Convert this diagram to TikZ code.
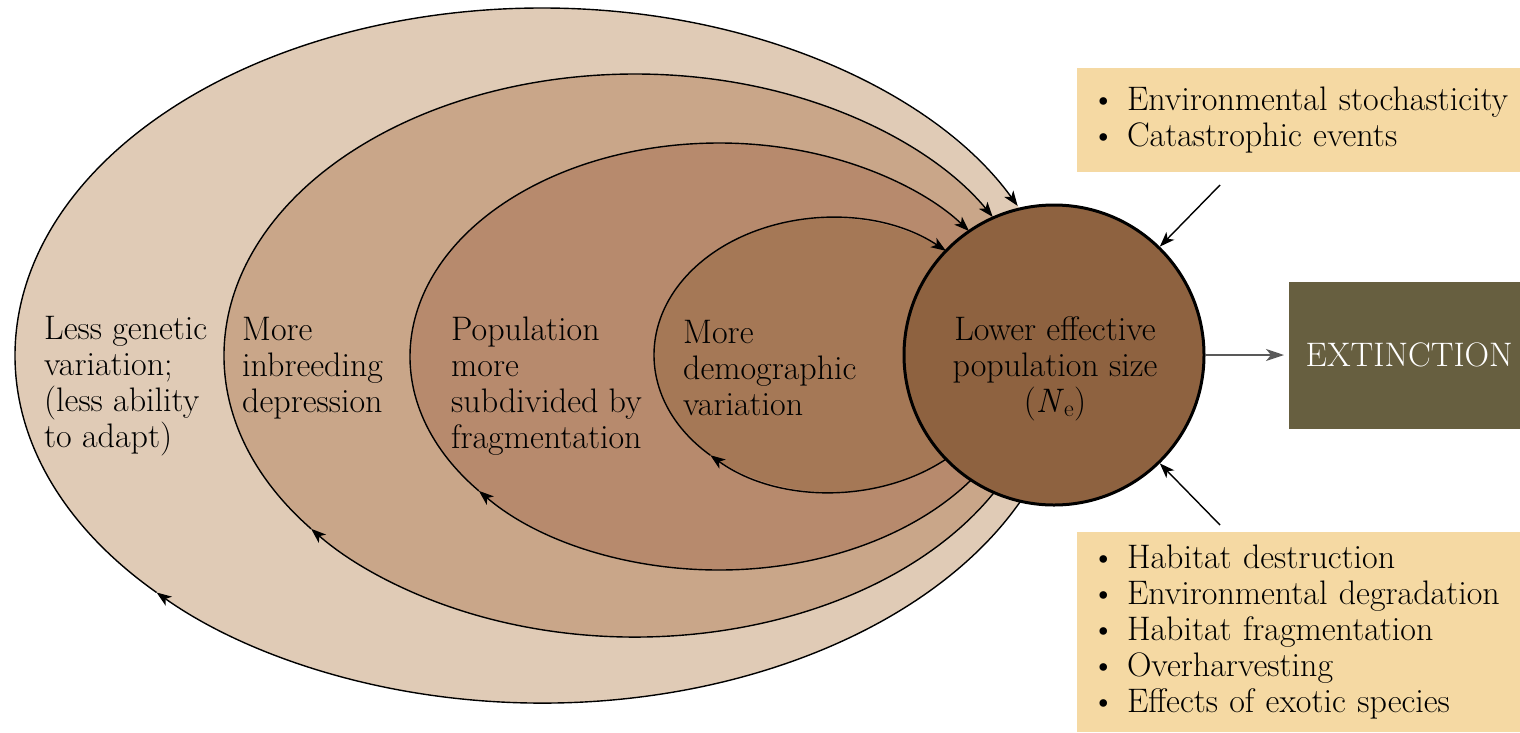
\documentclass[tikz,border=0pt]{standalone}
\usepackage{fontspec}
\usetikzlibrary{arrows.meta}

\definecolor{ringA}{HTML}{E0CBB6}
\definecolor{ringB}{HTML}{C9A689}
\definecolor{ringC}{HTML}{B78A6D}
\definecolor{ringD}{HTML}{A57856}
\definecolor{coreNe}{HTML}{8E6240}
\definecolor{causeFill}{HTML}{F5D9A3}
\definecolor{extFill}{HTML}{675F40}

\begin{document}
\begin{tikzpicture}[x=1pt,y=-1pt,
    every node/.style={font=\fontsize{34}{36}\selectfont},
    flow/.style={line width=1.4pt, -{Stealth[length=15pt,width=11pt,inset=4pt]}},
    push/.style={line width=1.4pt, -{Stealth[length=15pt,width=11pt,inset=4pt]}},
    ringtext/.style={align=left, anchor=west, inner sep=0pt},
    causebox/.style={fill=causeFill, align=left, anchor=west, text width=430pt, inner xsep=14pt, inner ysep=0pt}]
    \useasboundingbox (0,0) rectangle (1520,732);

    % rings, outer to inner
    \fill[ringA] (542,355.5) ellipse [x radius=527pt, y radius=347.5pt];
    \fill[ringB] (635,355.5) ellipse [x radius=411pt, y radius=281.5pt];
    \fill[ringC] (719,356.5) ellipse [x radius=309pt, y radius=213.5pt];
    \fill[ringD] (831,355) ellipse [x radius=177pt, y radius=137pt];

    % feedback loops
    \draw[flow] (542,355.5) ++(-15:527pt and 347.5pt) arc[start angle=-15, end angle=-137, x radius=527pt, y radius=347.5pt];
    \draw[flow] (542,355.5) ++(-137:527pt and 347.5pt) arc[start angle=-137, end angle=-334.5, x radius=527pt, y radius=347.5pt];
    \draw[flow] (635,355.5) ++(-25:411pt and 281.5pt) arc[start angle=-25, end angle=-142, x radius=411pt, y radius=281.5pt];
    \draw[flow] (635,355.5) ++(-142:411pt and 281.5pt) arc[start angle=-142, end angle=-330.5, x radius=411pt, y radius=281.5pt];
    \draw[flow] (719,356.5) ++(-30:309pt and 213.5pt) arc[start angle=-30, end angle=-141, x radius=309pt, y radius=213.5pt];
    \draw[flow] (719,356.5) ++(-141:309pt and 213.5pt) arc[start angle=-141, end angle=-324, x radius=309pt, y radius=213.5pt];
    \draw[flow] (831,355) ++(-45:177pt and 137pt) arc[start angle=-45, end angle=-133, x radius=177pt, y radius=137pt];
    \draw[flow] (831,355) ++(-133:177pt and 137pt) arc[start angle=-133, end angle=-310.5, x radius=177pt, y radius=137pt];

    \node[ringtext] (genetic) at (44,386) {Less genetic\\variation;\\(less ability\\to adapt)};
    \node[ringtext] (inbreed) at (242,368) {More\\inbreeding\\depression};
    \node[ringtext] (subdiv) at (451,386) {Population\\more\\subdivided by\\fragmentation};
    \node[ringtext] (demog) at (683,368) {More\\demographic\\variation};

    % effective population size
    \node[
        circle,
        draw,
        line width=3pt,
        fill=coreNe,
        minimum size=300pt,
        inner sep=0pt
    ] (ne) at (1054,355) {};
    \node[align=center, inner sep=0pt] (netext) at (1055,369) {Lower effective\\population size\\(\textit{N}\textsubscript{e})};

    \node[causebox, minimum height=104pt] (stoch) at (1077,120)
        {\textbullet\ Environmental stochasticity\\\textbullet\ Catastrophic events};
    \node[causebox, minimum height=200pt] (threat) at (1077,632)
        {\textbullet\ Habitat destruction\\\textbullet\ Environmental degradation\\\textbullet\ Habitat fragmentation\\\textbullet\ Overharvesting\\\textbullet\ Effects of exotic species};
    \node[fill=extFill, text=white, minimum height=147pt, minimum width=240pt, anchor=west] (ext) at (1289,355) {EXTINCTION};

    \coordinate (s1) at (1220,185);
    \coordinate (s2) at (1220,525);
    \draw[push] (s1) -- (ne);
    \draw[push] (s2) -- (ne);
    \draw[line width=2pt, black!65, shorten >=5pt, -{Stealth[length=18pt,width=12pt,inset=5pt]}] (ne) -- (ext);
\end{tikzpicture}
\end{document}
